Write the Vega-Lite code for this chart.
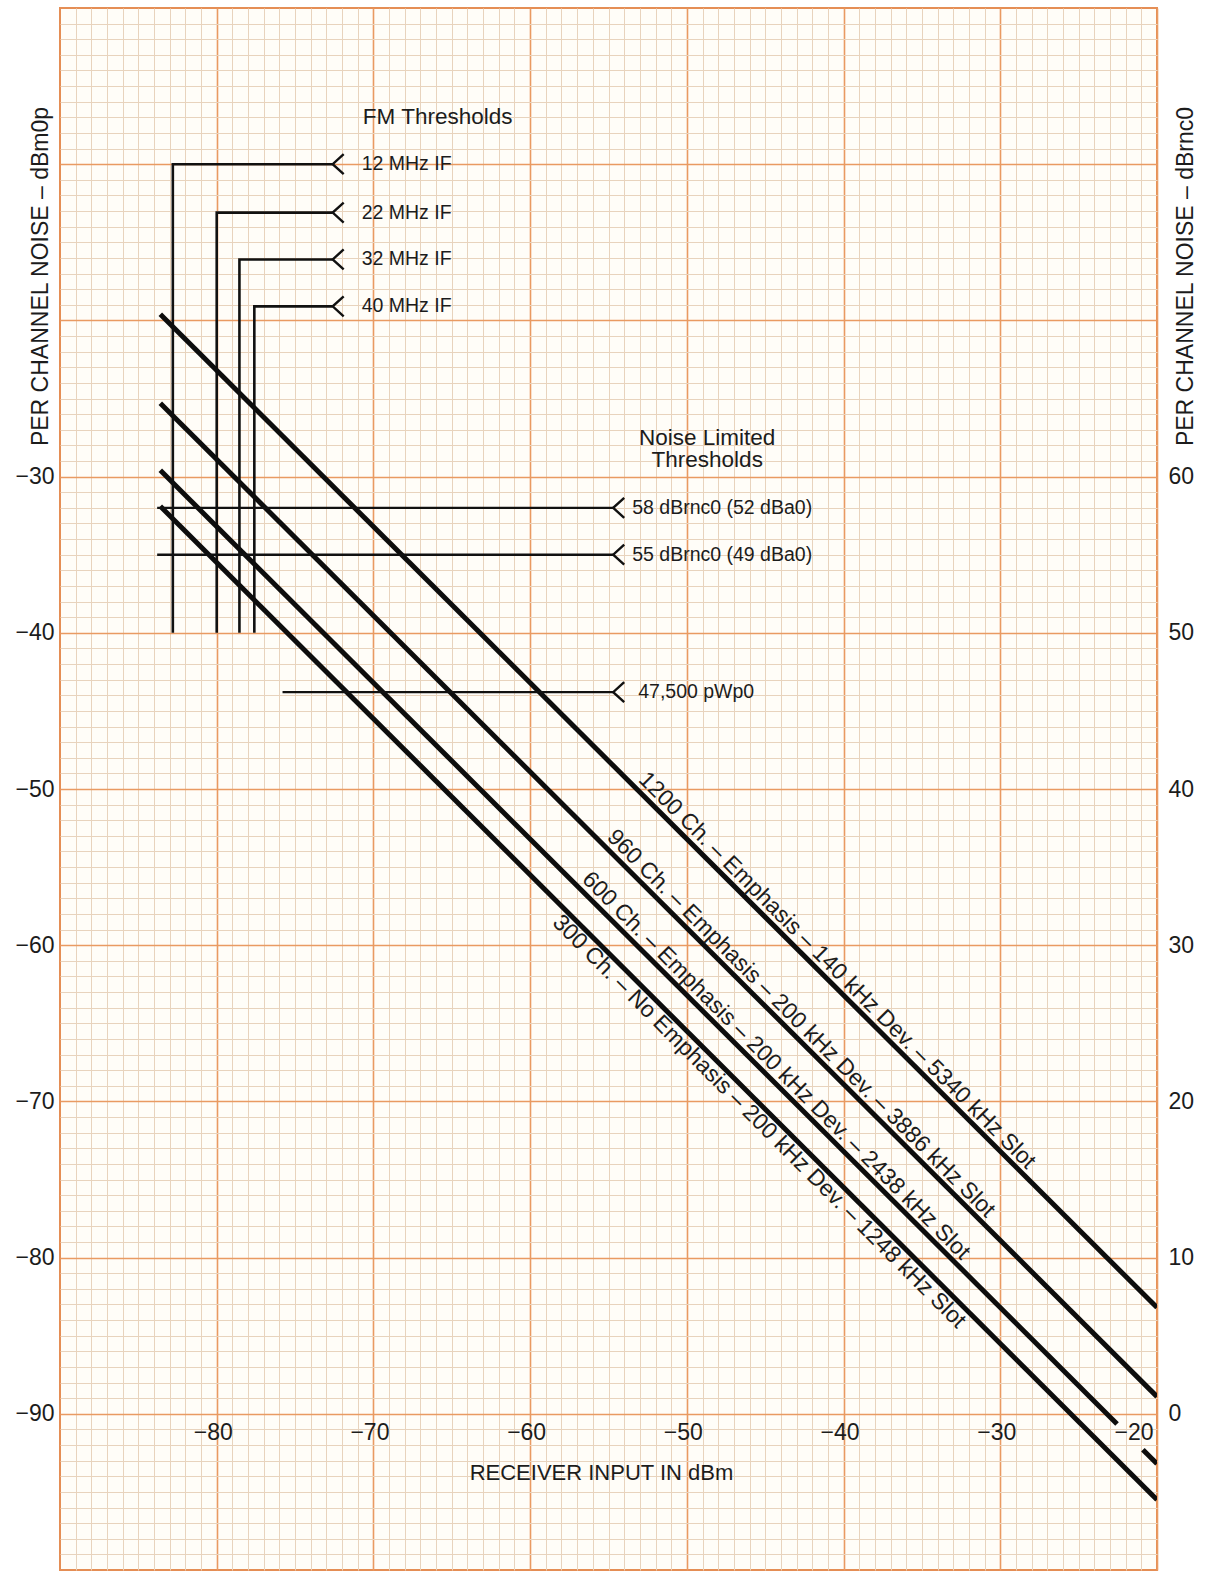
{
  "$schema": "https://vega.github.io/schema/vega-lite/v6.json",
  "width": 1097,
  "height": 1562,
  "autosize": {"type": "none"},
  "padding": {"left": 60, "top": 8, "right": 49, "bottom": 5},
  "background": "#ffffff",
  "config": {
    "view": {"stroke": "#e58e55", "strokeWidth": 2, "fill": "#fffdf8"},
    "font": "Liberation Sans",
    "axis": {
      "domain": false,
      "ticks": false,
      "labelColor": "#1c1c1c",
      "titleColor": "#1c1c1c",
      "labelFont": "Liberation Sans",
      "titleFont": "Liberation Sans",
      "labelFontSize": 23,
      "titleFontSize": 23,
      "titleFontWeight": "normal"
    }
  },
  "datasets": {
    "channels": [
      {"channels": "1200", "part": "a", "x": -83.6, "y": -19.6},
      {"channels": "1200", "part": "a", "x": -20, "y": -83.2},
      {"channels": "960", "part": "a", "x": -83.6, "y": -25.3},
      {"channels": "960", "part": "a", "x": -20, "y": -88.9},
      {"channels": "600", "part": "a", "x": -83.6, "y": -29.6},
      {"channels": "600", "part": "a", "x": -22.55, "y": -90.65},
      {"channels": "600", "part": "b", "x": -20.9, "y": -92.3},
      {"channels": "600", "part": "b", "x": -20, "y": -93.2},
      {"channels": "300", "part": "a", "x": -83.6, "y": -31.9},
      {"channels": "300", "part": "a", "x": -20, "y": -95.5}
    ],
    "fmPaths": [
      {"threshold": "12 MHz IF", "step": 1, "x": -82.8, "y": -40},
      {"threshold": "12 MHz IF", "step": 2, "x": -82.8, "y": -10},
      {"threshold": "12 MHz IF", "step": 3, "x": -72.6, "y": -10},
      {"threshold": "22 MHz IF", "step": 1, "x": -80.0, "y": -40},
      {"threshold": "22 MHz IF", "step": 2, "x": -80.0, "y": -13.1},
      {"threshold": "22 MHz IF", "step": 3, "x": -72.6, "y": -13.1},
      {"threshold": "32 MHz IF", "step": 1, "x": -78.55, "y": -40},
      {"threshold": "32 MHz IF", "step": 2, "x": -78.55, "y": -16.1},
      {"threshold": "32 MHz IF", "step": 3, "x": -72.6, "y": -16.1},
      {"threshold": "40 MHz IF", "step": 1, "x": -77.6, "y": -40},
      {"threshold": "40 MHz IF", "step": 2, "x": -77.6, "y": -19.1},
      {"threshold": "40 MHz IF", "step": 3, "x": -72.6, "y": -19.1}
    ],
    "callouts": [
      {"group": "fm", "label": "12 MHz IF", "tip": -72.6, "level": -10},
      {"group": "fm", "label": "22 MHz IF", "tip": -72.6, "level": -13.1},
      {"group": "fm", "label": "32 MHz IF", "tip": -72.6, "level": -16.1},
      {"group": "fm", "label": "40 MHz IF", "tip": -72.6, "level": -19.1},
      {"group": "noise", "label": "58 dBrnc0 (52 dBa0)", "from": -83.8, "tip": -54.7, "level": -32},
      {"group": "noise", "label": "55 dBrnc0 (49 dBa0)", "from": -83.8, "tip": -54.7, "level": -35},
      {"group": "pwp", "label": "47,500 pWp0", "from": -75.8, "tip": -54.7, "level": -43.8}
    ],
    "headings": [
      {"text": "FM Thresholds", "x": -65.9, "y": -7.0},
      {"text": "Noise Limited", "x": -48.7, "y": -27.55},
      {"text": "Thresholds", "x": -48.7, "y": -28.96}
    ],
    "curveLabels": [
      {"side": "above", "text": "1200 Ch. – Emphasis – 140 kHz Dev. – 5340 kHz Slot", "x": -41.0, "y": -62.2},
      {"side": "above", "text": "960 Ch. – Emphasis – 200 kHz Dev. – 3886 kHz Slot", "x": -43.3, "y": -65.6},
      {"side": "above", "text": "600 Ch. – Emphasis – 200 kHz Dev. – 2438 kHz Slot", "x": -44.9, "y": -68.3},
      {"side": "below", "text": "300 Ch. – No Emphasis – 200 kHz Dev. – 1248 kHz Slot", "x": -44.8, "y": -70.7}
    ]
  },
  "resolve": {"axis": {"x": "independent", "y": "independent"}},
  "layer": [
    {
      "data": {"name": "fmPaths"},
      "mark": {"type": "line", "color": "#111111", "strokeWidth": 2.6, "strokeJoin": "miter", "strokeCap": "butt"},
      "encoding": {
        "x": {
          "field": "x", "type": "quantitative",
          "scale": {"domain": [-90, -20], "nice": false, "zero": false},
          "axis": {
            "orient": "bottom", "title": null, "labels": false, "grid": true,
            "gridColor": "#e8d3bd", "gridWidth": 1,
            "values": [-89,-88,-87,-86,-85,-84,-83,-82,-81,-79,-78,-77,-76,-75,-74,-73,-72,-71,-69,-68,-67,-66,-65,-64,-63,-62,-61,-59,-58,-57,-56,-55,-54,-53,-52,-51,-49,-48,-47,-46,-45,-44,-43,-42,-41,-39,-38,-37,-36,-35,-34,-33,-32,-31,-29,-28,-27,-26,-25,-24,-23,-22,-21]
          }
        },
        "y": {
          "field": "y", "type": "quantitative",
          "scale": {"domain": [-100, 0], "nice": false, "zero": false},
          "axis": {
            "orient": "left", "title": null, "labels": false, "grid": true,
            "gridColor": "#e8d3bd", "gridWidth": 1,
            "values": [-99,-98,-97,-96,-95,-94,-93,-92,-91,-89,-88,-87,-86,-85,-84,-83,-82,-81,-79,-78,-77,-76,-75,-74,-73,-72,-71,-69,-68,-67,-66,-65,-64,-63,-62,-61,-59,-58,-57,-56,-55,-54,-53,-52,-51,-49,-48,-47,-46,-45,-44,-43,-42,-41,-39,-38,-37,-36,-35,-34,-33,-32,-31,-29,-28,-27,-26,-25,-24,-23,-22,-21,-19,-18,-17,-16,-15,-14,-13,-12,-11,-9,-8,-7,-6,-5,-4,-3,-2,-1]
          }
        },
        "detail": {"field": "threshold"},
        "order": {"field": "step"}
      }
    },
    {
      "data": {"name": "channels"},
      "mark": {"type": "line", "color": "#0d0d0d", "strokeWidth": 5, "strokeCap": "butt", "clip": true},
      "encoding": {
        "x": {
          "field": "x", "type": "quantitative",
          "axis": {
            "orient": "bottom", "offset": -156, "grid": true,
            "gridColor": "#e99a62", "gridWidth": 1.6,
            "values": [-80, -70, -60, -50, -40, -30, -20],
            "labelPadding": 7, "labelOffset": -4, "labelFlush": true, "labelFlushOffset": 0,
            "title": "RECEIVER INPUT IN dBm", "titleFontSize": 22,
            "titleX": 541, "titleY": 65, "titleAlign": "center", "titleBaseline": "alphabetic"
          }
        },
        "y": {
          "field": "y", "type": "quantitative",
          "axis": {
            "orient": "left", "grid": true,
            "gridColor": "#e99a62", "gridWidth": 1.6,
            "values": [-90, -80, -70, -60, -50, -40, -30, -20, -10],
            "labelExpr": "datum.value <= -30 ? datum.label : ''",
            "labelPadding": 6,
            "title": "PER CHANNEL NOISE – dBm0p",
            "titleAngle": 270, "titleX": -13, "titleY": 268,
            "titleAlign": "center", "titleBaseline": "alphabetic"
          }
        },
        "detail": [{"field": "channels"}, {"field": "part"}]
      }
    },
    {
      "data": {"name": "callouts"},
      "transform": [{"filter": "datum.group !== 'fm'"}],
      "mark": {"type": "rule", "color": "#111111", "strokeWidth": 2.4},
      "encoding": {
        "x": {"field": "from", "type": "quantitative", "axis": null},
        "x2": {"field": "tip"},
        "y": {
          "field": "level", "type": "quantitative",
          "axis": {
            "orient": "right", "grid": false,
            "values": [-90, -80, -70, -60, -50, -40, -30],
            "labelExpr": "format(datum.value + 90, 'd')",
            "labelPadding": 11,
            "title": "PER CHANNEL NOISE – dBrnc0",
            "titleAngle": 270, "titleX": 35, "titleY": 268,
            "titleAlign": "center", "titleBaseline": "alphabetic"
          }
        }
      }
    },
    {
      "data": {"name": "callouts"},
      "mark": {"type": "point", "shape": "M1.1,-1L0,0L1.1,1", "size": 400, "filled": false, "stroke": "#111111", "strokeWidth": 2.4, "opacity": 1},
      "encoding": {
        "x": {"field": "tip", "type": "quantitative", "axis": null},
        "y": {"field": "level", "type": "quantitative", "axis": null}
      }
    },
    {
      "data": {"name": "callouts"},
      "transform": [{"filter": "datum.group === 'fm'"}],
      "mark": {"type": "text", "align": "left", "baseline": "middle", "dx": 29, "fontSize": 19.5, "color": "#1c1c1c"},
      "encoding": {
        "x": {"field": "tip", "type": "quantitative", "axis": null},
        "y": {"field": "level", "type": "quantitative", "axis": null},
        "text": {"field": "label"}
      }
    },
    {
      "data": {"name": "callouts"},
      "transform": [{"filter": "datum.group === 'noise'"}],
      "mark": {"type": "text", "align": "left", "baseline": "middle", "dx": 19, "fontSize": 19.5, "color": "#1c1c1c"},
      "encoding": {
        "x": {"field": "tip", "type": "quantitative", "axis": null},
        "y": {"field": "level", "type": "quantitative", "axis": null},
        "text": {"field": "label"}
      }
    },
    {
      "data": {"name": "callouts"},
      "transform": [{"filter": "datum.group === 'pwp'"}],
      "mark": {"type": "text", "align": "left", "baseline": "middle", "dx": 25, "fontSize": 19.5, "color": "#1c1c1c"},
      "encoding": {
        "x": {"field": "tip", "type": "quantitative", "axis": null},
        "y": {"field": "level", "type": "quantitative", "axis": null},
        "text": {"field": "label"}
      }
    },
    {
      "data": {"name": "headings"},
      "mark": {"type": "text", "align": "center", "baseline": "middle", "fontSize": 22.5, "color": "#1c1c1c"},
      "encoding": {
        "x": {"field": "x", "type": "quantitative", "axis": null},
        "y": {"field": "y", "type": "quantitative", "axis": null},
        "text": {"field": "text"}
      }
    },
    {
      "data": {"name": "curveLabels"},
      "transform": [{"filter": "datum.side === 'above'"}],
      "mark": {"type": "text", "align": "center", "baseline": "middle", "angle": 45, "dy": -13, "fontSize": 23, "color": "#1c1c1c"},
      "encoding": {
        "x": {"field": "x", "type": "quantitative", "axis": null},
        "y": {"field": "y", "type": "quantitative", "axis": null},
        "text": {"field": "text"}
      }
    },
    {
      "data": {"name": "curveLabels"},
      "transform": [{"filter": "datum.side === 'below'"}],
      "mark": {"type": "text", "align": "center", "baseline": "middle", "angle": 45, "dy": 13, "fontSize": 23, "color": "#1c1c1c"},
      "encoding": {
        "x": {"field": "x", "type": "quantitative", "axis": null},
        "y": {"field": "y", "type": "quantitative", "axis": null},
        "text": {"field": "text"}
      }
    }
  ]
}
